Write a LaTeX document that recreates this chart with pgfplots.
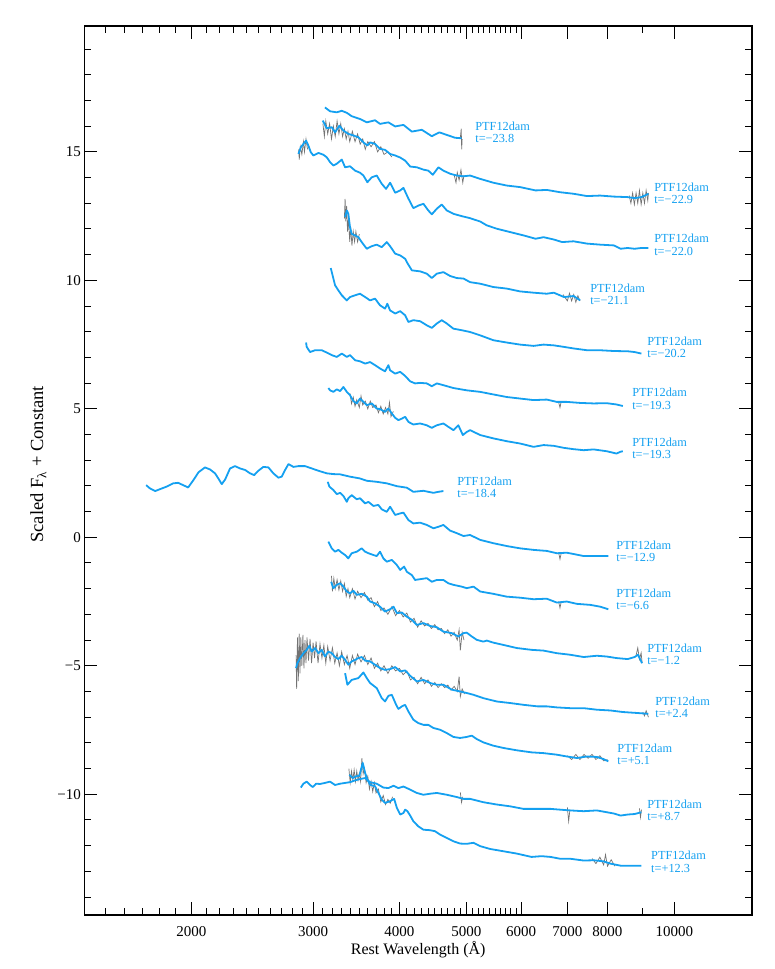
\documentclass[border=0pt]{standalone}
\usepackage{fontspec}
\setmainfont{Liberation Serif}
\usepackage{pgfplots}
\pgfplotsset{compat=1.18}
\definecolor{specblue}{RGB}{20,160,240}
\definecolor{specgrey}{RGB}{115,115,115}
\tikzset{
  rawsp/.style={specgrey, line width=0.7pt},
  smsp/.style={specblue, line width=1.8pt, line join=round},
  lab/.style={anchor=west, align=left, inner sep=0pt, text=specblue, font=\fontsize{12.3}{12.6}\selectfont},
}
\begin{document}
\begin{tikzpicture}
\useasboundingbox (-84.3pt,-54pt) rectangle (690.7pt,915pt);
\begin{axis}[
  at={(0,0)}, anchor=south west,
  scale only axis, width=667.7pt, height=889pt,
  xmode=log, xmin=1400, xmax=12950, ymin=-14.7, ymax=19.9,
  axis line style={line width=1.2pt},
  xtick={2000,3000,4000,5000,6000,7000,8000,10000},
  xticklabels={2000,3000,4000,5000,6000,7000,8000,10000},
  minor xtick={1500,1600,1700,1800,1900,2100,2200,2300,2400,2500,2600,2700,2800,2900,3100,3200,3300,3400,3500,3600,3700,3800,3900,4100,4200,4300,4400,4500,4600,4700,4800,4900,5100,5200,5300,5400,5500,5600,5700,5800,5900,9000},
  ytick={-10,-5,0,5,10,15},
  yticklabels={−10,−5,0,5,10,15},
  minor ytick={-14,-13,-12,-11,-9,-8,-7,-6,-4,-3,-2,-1,1,2,3,4,6,7,8,9,11,12,13,14,16,17,18,19},
  major tick length=13pt, minor tick length=6.7pt,
  every tick/.style={black, line width=1pt},
  tick label style={font=\fontsize{15}{15}\selectfont},
  /pgf/number format/assume math mode=true,
  xticklabel style={yshift=-8pt},
  xlabel={Rest Wavelength (Å)},
  ylabel={Scaled F\textsubscript{λ} + Constant},
  xlabel style={font=\fontsize{16}{16}\selectfont, at={(axis description cs:0.5,0)}, anchor=center, yshift=-35pt},
  ylabel style={font=\fontsize{18.5}{18.5}\selectfont, at={(axis description cs:-0.069,0.507)}, anchor=center},
  clip=true,
  every axis plot/.append style={no marks},
]
% ---------------- grey (raw, noisy) parts ----------------
\addplot[rawsp] coordinates {(4900,15.55)(4915,15.9)(4922,15.1)(4930,15.5)};
\addplot[rawsp] coordinates {(3100,16.1)(3115,15.6)(3130,16.2)(3150,15.7)(3170,16.1)(3190,15.5)(3210,16.0)(3230,15.6)(3250,16.2)(3270,15.7)(3290,16.1)(3310,15.6)(3330,15.9)(3350,15.5)(3370,15.8)(3390,15.4)(3420,15.8)(3450,15.4)(3480,15.7)(3510,15.3)(3540,15.5)(3570,15.1)(3600,15.4)(3640,15.2)(3680,15.4)(3720,15.0)(3760,15.2)(3800,14.9)(3850,15.0)(3900,14.8)};
\addplot[rawsp] coordinates {(4800,14.1)(4830,13.8)(4850,14.2)(4880,13.9)(4910,14.3)(4940,13.8)(4960,14.1)};
\addplot[rawsp] coordinates {(8600,13.3)(8650,13.0)(8700,13.4)(8750,12.95)(8800,13.4)(8850,13.0)(8900,13.5)(8950,12.95)(9000,13.4)(9050,13.0)(9100,13.5)(9150,13.1)(9170,13.4)};
\addplot[rawsp] coordinates {(2860,15.1)(2865,14.7)(2875,15.2)(2890,14.9)(2905,15.4)(2915,15.0)(2930,15.5)(2945,15.1)};
\addplot[rawsp] coordinates {(3330,12.4)(3338,13.17)(3345,12.3)(3355,12.9)(3365,11.9)(3375,12.4)(3390,11.5)(3400,12.1)(3415,11.35)(3430,11.9)(3445,11.5)(3460,11.9)(3480,11.5)(3500,11.8)};
\addplot[rawsp] coordinates {(6900,9.45)(7000,9.2)(7050,9.5)(7100,9.2)(7150,9.45)(7200,9.15)(7250,9.4)(7300,9.2)};
\addplot[rawsp] coordinates {(6800,5.25)(6830,5.05)(6860,5.3)};
\addplot[rawsp] coordinates {(3393,5.6)(3410,5.2)(3430,5.45)(3450,5.1)(3470,5.35)(3500,5.05)(3520,5.5)(3540,5.15)(3570,5.3)(3600,5.0)(3630,5.3)(3660,5.05)(3700,5.15)(3730,4.85)(3760,5.1)(3790,4.8)(3820,5.05)(3850,4.8)(3870,5.25)(3890,4.7)(3920,4.9)};
\addplot[rawsp] coordinates {(6800,-0.6)(6830,-0.85)(6860,-0.6)};
\addplot[rawsp] coordinates {(6800,-2.5)(6830,-2.75)(6860,-2.5)};
\addplot[rawsp] coordinates {(3190,-1.5)(3200,-2.1)(3215,-1.6)(3230,-2.0)(3250,-1.65)(3270,-2.05)(3290,-1.7)(3310,-2.1)(3330,-1.8)(3350,-2.3)(3370,-2.0)(3390,-2.35)(3420,-2.0)(3450,-2.4)(3480,-2.1)(3520,-2.35)(3560,-2.15)(3600,-2.45)(3640,-2.35)(3680,-2.7)(3720,-2.5)(3760,-2.85)(3800,-2.75)(3850,-3.0)(3900,-2.7)(3950,-3.05)(4000,-2.85)(4050,-3.1)(4100,-2.95)(4150,-3.3)(4200,-3.15)(4250,-3.5)(4300,-3.25)(4350,-3.45)(4400,-3.35)(4450,-3.55)(4500,-3.4)(4550,-3.6)(4600,-3.55)(4650,-3.75)(4700,-3.6)(4750,-3.85)(4800,-3.7)(4850,-4.0)(4880,-3.6)(4900,-4.4)(4930,-3.7)(4960,-4.0)};
\addplot[rawsp] coordinates {(8800,-4.6)(8850,-4.3)(8900,-4.75)(8950,-4.5)(8980,-4.9)};
\addplot[rawsp] coordinates {(2835,-4.6)(2840,-5.9)(2848,-3.9)(2856,-5.6)(2864,-3.75)(2872,-5.3)(2880,-3.9)(2890,-5.0)(2900,-3.8)(2910,-5.1)(2920,-4.0)(2930,-4.9)(2940,-3.9)(2955,-4.8)(2970,-3.95)(2985,-4.9)(3000,-4.1)(3015,-4.7)(3030,-4.05)(3050,-4.9)(3070,-4.15)(3090,-4.7)(3110,-4.2)(3130,-4.9)(3150,-4.25)(3175,-4.8)(3200,-4.3)(3225,-4.9)(3250,-4.5)(3275,-5.0)(3300,-4.45)(3330,-4.95)(3360,-4.6)(3390,-5.1)(3420,-4.6)(3450,-4.95)(3480,-4.55)(3520,-4.85)(3560,-4.6)(3600,-4.95)(3640,-4.7)(3680,-5.1)(3720,-4.9)(3760,-5.2)(3800,-5.0)(3850,-5.3)(3900,-5.0)(3950,-5.2)(4000,-5.1)(4050,-5.35)(4100,-5.2)(4150,-5.55)(4200,-5.45)(4250,-5.7)(4300,-5.45)(4350,-5.7)(4400,-5.55)(4450,-5.8)(4500,-5.65)(4550,-5.85)(4600,-5.7)(4650,-5.85)(4700,-5.75)(4750,-5.95)(4800,-5.8)(4850,-6.0)(4880,-5.42)(4900,-6.2)(4930,-5.9)(4970,-6.1)};
\addplot[rawsp] coordinates {(9000,-6.8)(9050,-6.95)(9100,-6.75)(9170,-7.0)};
\addplot[rawsp] coordinates {(7000,-8.5)(7100,-8.65)(7200,-8.45)(7300,-8.65)(7400,-8.45)(7500,-8.6)(7600,-8.45)(7700,-8.65)(7800,-8.5)(7900,-8.7)(8000,-8.65)};
\addplot[rawsp] coordinates {(4900,-9.93)(4920,-10.32)(4940,-10.1)};
\addplot[rawsp] coordinates {(7000,-10.51)(7030,-11.05)(7060,-10.6)};
\addplot[rawsp] coordinates {(8900,-10.55)(8930,-10.9)(8960,-10.6)};
\addplot[rawsp] coordinates {(3380,-9.0)(3395,-9.55)(3410,-9.1)(3425,-9.45)(3440,-9.05)(3455,-9.5)(3470,-9.1)(3485,-9.45)(3500,-9.2)(3515,-9.5)(3530,-8.6)(3545,-9.2)(3560,-9.0)(3580,-9.55)(3600,-9.3)(3620,-9.8)(3640,-9.5)(3660,-9.9)(3680,-9.55)(3700,-9.95)(3730,-9.8)(3760,-10.3)(3790,-10.05)(3820,-10.4)(3850,-10.2)(3880,-10.35)(3910,-10.1)};
\addplot[rawsp] coordinates {(7600,-12.5)(7700,-12.7)(7800,-12.45)(7900,-12.75)(7950,-12.35)(8000,-12.8)(8100,-12.55)(8200,-12.8)};
% ---------------- blue (smoothed) spectra ----------------
% t=-23.8
\addplot[smsp] coordinates {(3121,16.73)(3175,16.58)(3247,16.54)(3301,16.60)(3357,16.52)(3412,16.39)(3508,16.28)(3588,16.15)(3688,16.23)(3750,16.09)(3856,16.15)(3944,15.99)(4054,16.05)(4169,15.79)(4310,15.86)(4456,15.61)(4570,15.76)(4684,15.66)(4815,15.55)(4922,15.53)};
% t=-22.9
\addplot[smsp] coordinates {(3098,16.22)(3140,15.92)(3193,15.96)(3228,15.76)(3275,16.02)(3319,15.83)(3374,15.70)(3431,15.64)(3489,15.57)(3548,15.37)(3595,15.25)(3628,15.37)(3688,15.31)(3750,15.12)(3813,15.08)(3878,14.92)(3944,14.86)(4010,14.78)(4077,14.66)(4146,14.43)(4239,14.40)(4333,14.31)(4404,14.27)(4471,14.11)(4555,14.40)(4631,14.27)(4736,14.15)(4843,14.08)(4952,14.05)(5062,14.08)(5235,13.95)(5470,13.80)(5719,13.69)(5979,13.63)(6296,13.50)(6536,13.52)(6832,13.43)(7146,13.37)(7476,13.28)(7807,13.30)(8173,13.26)(8557,13.24)(8757,13.20)(8958,13.24)(9169,13.37)};
% t=-22.0
\addplot[smsp] coordinates {(2857,14.92)(2880,15.18)(2905,15.31)(2931,15.44)(2953,15.25)(2977,14.99)(3003,14.86)(3054,14.96)(3104,14.89)(3140,14.79)(3175,14.60)(3210,14.47)(3247,14.54)(3301,14.70)(3338,14.40)(3393,14.44)(3451,14.27)(3508,14.19)(3548,14.08)(3595,13.82)(3648,14.01)(3709,14.08)(3771,13.76)(3826,13.56)(3878,13.80)(3944,13.41)(4010,13.50)(4054,13.60)(4122,13.18)(4190,12.81)(4260,12.91)(4333,12.98)(4404,12.72)(4456,12.57)(4531,12.79)(4606,12.95)(4684,12.72)(4788,12.59)(4922,12.50)(5062,12.42)(5235,12.29)(5352,12.14)(5532,12.01)(5784,11.88)(6048,11.75)(6296,11.62)(6467,11.68)(6690,11.59)(6879,11.49)(7146,11.52)(7476,11.43)(7807,11.39)(8173,11.36)(8356,11.23)(8557,11.26)(8757,11.23)(8958,11.26)(9169,11.26)};
% t=-21.1
\addplot[smsp] coordinates {(3338,12.46)(3357,12.72)(3374,12.59)(3393,12.07)(3412,11.81)(3451,11.75)(3489,11.68)(3528,11.49)(3588,11.23)(3648,11.33)(3709,11.39)(3771,11.29)(3835,11.49)(3878,11.33)(3944,11.04)(4010,10.97)(4077,10.84)(4100,10.71)(4169,10.39)(4286,10.35)(4382,10.26)(4456,10.09)(4531,10.26)(4631,10.32)(4736,10.17)(4843,10.09)(4952,10.07)(5062,9.93)(5235,9.87)(5470,9.74)(5719,9.68)(5979,9.57)(6255,9.52)(6536,9.48)(6690,9.52)(6923,9.35)(7146,9.39)(7304,9.22)};
% t=-20.2
\addplot[smsp] coordinates {(3182,10.48)(3193,10.32)(3228,9.81)(3264,9.61)(3301,9.42)(3357,9.22)(3393,9.35)(3451,9.42)(3508,9.48)(3568,9.35)(3628,9.22)(3688,9.29)(3750,9.03)(3813,8.90)(3843,9.09)(3878,8.83)(3944,8.71)(4010,8.80)(4077,8.64)(4122,8.38)(4190,8.45)(4286,8.41)(4382,8.25)(4456,8.15)(4531,8.32)(4606,8.45)(4684,8.32)(4788,8.12)(4922,8.06)(5062,7.99)(5235,7.86)(5470,7.67)(5719,7.58)(5979,7.50)(6255,7.45)(6467,7.50)(6690,7.47)(6923,7.41)(7146,7.35)(7476,7.28)(7807,7.28)(8173,7.25)(8557,7.24)(8757,7.21)(8958,7.15)};
% t=-19.3 (upper)
\addplot[smsp] coordinates {(2931,7.58)(2937,7.41)(2970,7.21)(3020,7.28)(3088,7.28)(3140,7.19)(3193,7.09)(3247,7.02)(3301,7.15)(3357,7.02)(3393,7.09)(3451,6.89)(3508,6.85)(3568,6.76)(3628,6.82)(3688,6.70)(3750,6.57)(3813,6.46)(3856,6.70)(3878,6.50)(3944,6.37)(4010,6.44)(4077,6.28)(4146,6.07)(4214,5.99)(4286,6.01)(4382,5.99)(4456,5.88)(4531,5.99)(4631,5.92)(4788,5.81)(5005,5.72)(5235,5.66)(5470,5.56)(5719,5.46)(5979,5.40)(6255,5.34)(6536,5.36)(6757,5.27)(6986,5.27)(7304,5.23)(7639,5.21)(7981,5.22)(8243,5.17)(8420,5.11)};
% t=-19.3 (lower)
\addplot[smsp] coordinates {(3157,5.81)(3175,5.72)(3210,5.66)(3247,5.76)(3283,5.69)(3319,5.85)(3357,5.66)(3393,5.53)(3431,5.30)(3470,5.21)(3508,5.40)(3548,5.27)(3588,5.14)(3648,5.21)(3709,5.01)(3750,4.99)(3813,4.88)(3856,5.01)(3900,4.82)(3944,4.65)(3987,4.56)(4033,4.62)(4077,4.69)(4122,4.49)(4190,4.39)(4286,4.43)(4382,4.36)(4456,4.26)(4531,4.36)(4631,4.43)(4708,4.30)(4788,4.17)(4868,4.36)(4941,3.98)(5005,4.10)(5062,4.17)(5235,3.98)(5470,3.85)(5719,3.74)(5979,3.65)(6255,3.52)(6467,3.59)(6690,3.56)(6923,3.48)(7146,3.43)(7391,3.39)(7639,3.42)(7981,3.35)(8243,3.26)(8356,3.33)(8420,3.35)};
% t=-18.4
\addplot[smsp] coordinates {(1720,2.03)(1743,1.90)(1773,1.80)(1800,1.87)(1841,1.97)(1883,2.10)(1914,2.12)(1946,2.03)(1979,1.94)(2014,2.23)(2048,2.53)(2093,2.72)(2128,2.64)(2164,2.49)(2188,2.29)(2213,2.07)(2238,2.25)(2275,2.68)(2313,2.77)(2352,2.68)(2392,2.62)(2432,2.49)(2465,2.42)(2500,2.59)(2542,2.74)(2585,2.72)(2628,2.49)(2673,2.32)(2702,2.36)(2733,2.62)(2764,2.85)(2810,2.74)(2857,2.77)(2921,2.77)(2987,2.68)(3054,2.59)(3140,2.49)(3210,2.46)(3283,2.45)(3393,2.36)(3508,2.29)(3588,2.20)(3709,2.16)(3835,2.10)(3966,1.99)(4100,1.93)(4190,1.77)(4333,1.81)(4479,1.73)(4555,1.77)(4631,1.80)};
% t=-12.9
\addplot[smsp] coordinates {(3150,2.16)(3168,1.97)(3210,1.84)(3247,1.68)(3283,1.73)(3319,1.61)(3357,1.38)(3374,1.52)(3412,1.64)(3470,1.48)(3508,1.52)(3568,1.32)(3608,1.38)(3668,1.22)(3729,1.26)(3771,1.09)(3835,0.99)(3878,1.19)(3944,0.87)(4010,0.93)(4054,0.96)(4122,0.67)(4190,0.54)(4286,0.57)(4382,0.48)(4479,0.35)(4555,0.41)(4631,0.48)(4736,0.26)(4843,0.16)(4952,0.05)(5062,0.09)(5235,-0.10)(5470,-0.23)(5719,-0.34)(5979,-0.43)(6255,-0.49)(6536,-0.53)(6757,-0.62)(6986,-0.60)(7146,-0.65)(7391,-0.73)(7639,-0.73)(8023,-0.73)};
% t=-6.6
\addplot[smsp] coordinates {(3157,-0.17)(3175,-0.30)(3193,-0.43)(3228,-0.56)(3264,-0.49)(3301,-0.60)(3338,-0.69)(3374,-0.82)(3412,-0.62)(3470,-0.56)(3528,-0.43)(3568,-0.56)(3608,-0.62)(3668,-0.69)(3709,-0.73)(3750,-0.56)(3792,-0.82)(3835,-0.95)(3900,-0.88)(3966,-1.08)(4010,-1.27)(4063,-1.14)(4100,-1.34)(4169,-1.47)(4214,-1.66)(4286,-1.63)(4382,-1.59)(4456,-1.73)(4531,-1.66)(4631,-1.66)(4708,-1.79)(4788,-1.85)(4922,-1.92)(5005,-1.98)(5120,-1.92)(5235,-2.11)(5470,-2.20)(5719,-2.31)(5979,-2.35)(6255,-2.41)(6536,-2.39)(6757,-2.54)(6986,-2.50)(7224,-2.59)(7556,-2.63)(7807,-2.70)(8023,-2.80)};
% t=-1.2
\addplot[smsp] coordinates {(3186,-1.73)(3210,-1.98)(3247,-1.85)(3283,-1.79)(3319,-1.92)(3357,-2.11)(3393,-2.18)(3431,-2.08)(3470,-2.24)(3528,-2.20)(3588,-2.31)(3628,-2.50)(3688,-2.57)(3750,-2.70)(3813,-2.89)(3878,-2.80)(3922,-2.70)(3966,-2.95)(4033,-2.93)(4100,-3.09)(4169,-3.21)(4239,-3.41)(4333,-3.34)(4430,-3.45)(4531,-3.50)(4631,-3.67)(4763,-3.73)(4868,-3.86)(4952,-3.73)(5005,-3.71)(5090,-3.86)(5175,-3.99)(5290,-4.06)(5352,-4.02)(5470,-4.10)(5659,-4.19)(5914,-4.31)(6212,-4.38)(6467,-4.41)(6757,-4.51)(7062,-4.57)(7391,-4.66)(7723,-4.61)(7981,-4.64)(8243,-4.70)(8557,-4.74)(8757,-4.66)(8858,-4.57)(8977,-4.90)};
% t=+2.4
\addplot[smsp] coordinates {(2835,-5.09)(2847,-4.90)(2873,-4.70)(2905,-4.51)(2937,-4.38)(2963,-4.22)(2987,-4.45)(3020,-4.31)(3054,-4.51)(3088,-4.38)(3121,-4.64)(3157,-4.45)(3193,-4.51)(3228,-4.66)(3264,-4.74)(3301,-4.61)(3338,-4.77)(3374,-4.96)(3412,-4.83)(3451,-4.77)(3489,-4.70)(3528,-4.66)(3568,-4.80)(3628,-4.83)(3688,-4.96)(3750,-5.09)(3813,-5.16)(3878,-5.13)(3944,-5.05)(4010,-5.22)(4077,-5.18)(4146,-5.39)(4239,-5.61)(4333,-5.55)(4430,-5.67)(4531,-5.74)(4631,-5.74)(4763,-5.93)(4896,-6.00)(5005,-6.06)(5120,-6.13)(5290,-6.26)(5532,-6.39)(5784,-6.45)(6048,-6.52)(6338,-6.58)(6536,-6.58)(6757,-6.62)(7062,-6.65)(7391,-6.65)(7723,-6.71)(8077,-6.74)(8420,-6.80)(8858,-6.84)(9169,-6.87)};
% t=+5.1
\addplot[smsp] coordinates {(3338,-5.29)(3364,-5.74)(3412,-5.55)(3489,-5.48)(3548,-5.26)(3588,-5.48)(3628,-5.67)(3709,-5.87)(3771,-6.26)(3813,-6.39)(3856,-6.17)(3900,-6.13)(3957,-6.52)(3987,-6.68)(4033,-6.58)(4077,-6.52)(4122,-6.78)(4190,-7.10)(4260,-7.23)(4333,-7.30)(4404,-7.30)(4479,-7.42)(4580,-7.49)(4684,-7.62)(4788,-7.77)(4896,-7.81)(5005,-7.77)(5090,-7.72)(5175,-7.85)(5290,-7.98)(5470,-8.11)(5659,-8.20)(5914,-8.29)(6212,-8.37)(6467,-8.40)(6757,-8.46)(6986,-8.53)(7224,-8.59)(7476,-8.53)(7723,-8.55)(7893,-8.63)(8023,-8.72)};
% t=+8.7
\addplot[smsp] coordinates {(2880,-9.74)(2905,-9.59)(2937,-9.51)(2970,-9.64)(2997,-9.72)(3030,-9.59)(3071,-9.60)(3121,-9.56)(3175,-9.51)(3228,-9.64)(3283,-9.59)(3338,-9.56)(3393,-9.53)(3451,-9.46)(3508,-9.41)(3568,-9.37)(3628,-9.53)(3709,-9.59)(3792,-9.74)(3856,-9.76)(3922,-9.67)(3987,-9.76)(4054,-9.70)(4146,-9.82)(4239,-9.95)(4333,-10.02)(4430,-9.98)(4531,-9.95)(4684,-10.02)(4843,-10.11)(4952,-10.18)(5062,-10.18)(5290,-10.31)(5532,-10.40)(5784,-10.47)(6048,-10.57)(6338,-10.57)(6620,-10.57)(6832,-10.60)(7062,-10.63)(7391,-10.66)(7723,-10.63)(7981,-10.70)(8173,-10.75)(8356,-10.83)(8557,-10.79)(8757,-10.77)(8958,-10.70)};
% t=+12.3
\addplot[smsp] coordinates {(3385,-9.24)(3424,-9.37)(3462,-9.30)(3500,-9.28)(3540,-8.78)(3568,-9.17)(3595,-9.43)(3628,-9.63)(3688,-9.69)(3729,-9.95)(3771,-10.21)(3813,-10.34)(3878,-10.27)(3931,-10.18)(3966,-10.53)(4010,-10.79)(4054,-10.73)(4077,-10.60)(4108,-10.66)(4146,-10.83)(4190,-11.05)(4260,-11.25)(4333,-11.38)(4430,-11.40)(4505,-11.44)(4580,-11.57)(4684,-11.70)(4788,-11.83)(4896,-11.92)(5005,-11.93)(5120,-11.89)(5235,-12.02)(5411,-12.13)(5659,-12.22)(5914,-12.31)(6212,-12.44)(6425,-12.41)(6620,-12.44)(6832,-12.51)(7062,-12.51)(7391,-12.58)(7639,-12.57)(7893,-12.61)(8077,-12.70)(8356,-12.78)(8656,-12.78)(8958,-12.78)};
% ---------------- labels ----------------
\node[lab] at (axis cs:5148,15.76) {PTF12dam\\t=−23.8};
\node[lab] at (axis cs:9345,13.38) {PTF12dam\\t=−22.9};
\node[lab] at (axis cs:9345,11.38) {PTF12dam\\t=−22.0};
\node[lab] at (axis cs:7551,9.46) {PTF12dam\\t=−21.1};
\node[lab] at (axis cs:9129,7.40) {PTF12dam\\t=−20.2};
\node[lab] at (axis cs:8683,5.38) {PTF12dam\\t=−19.3};
\node[lab] at (axis cs:8683,3.47) {PTF12dam\\t=−19.3};
\node[lab] at (axis cs:4848,1.94) {PTF12dam\\t=−18.4};
\node[lab] at (axis cs:8237,-0.55) {PTF12dam\\t=−12.9};
\node[lab] at (axis cs:8237,-2.42) {PTF12dam\\t=−6.6};
\node[lab] at (axis cs:9129,-4.55) {PTF12dam\\t=−1.2};
\node[lab] at (axis cs:9377,-6.61) {PTF12dam\\t=+2.4};
\node[lab] at (axis cs:8265,-8.44) {PTF12dam\\t=+5.1};
\node[lab] at (axis cs:9129,-10.62) {PTF12dam\\t=+8.7};
\node[lab] at (axis cs:9250,-12.64) {PTF12dam\\t=+12.3};
\end{axis}
\end{tikzpicture}
\end{document}
